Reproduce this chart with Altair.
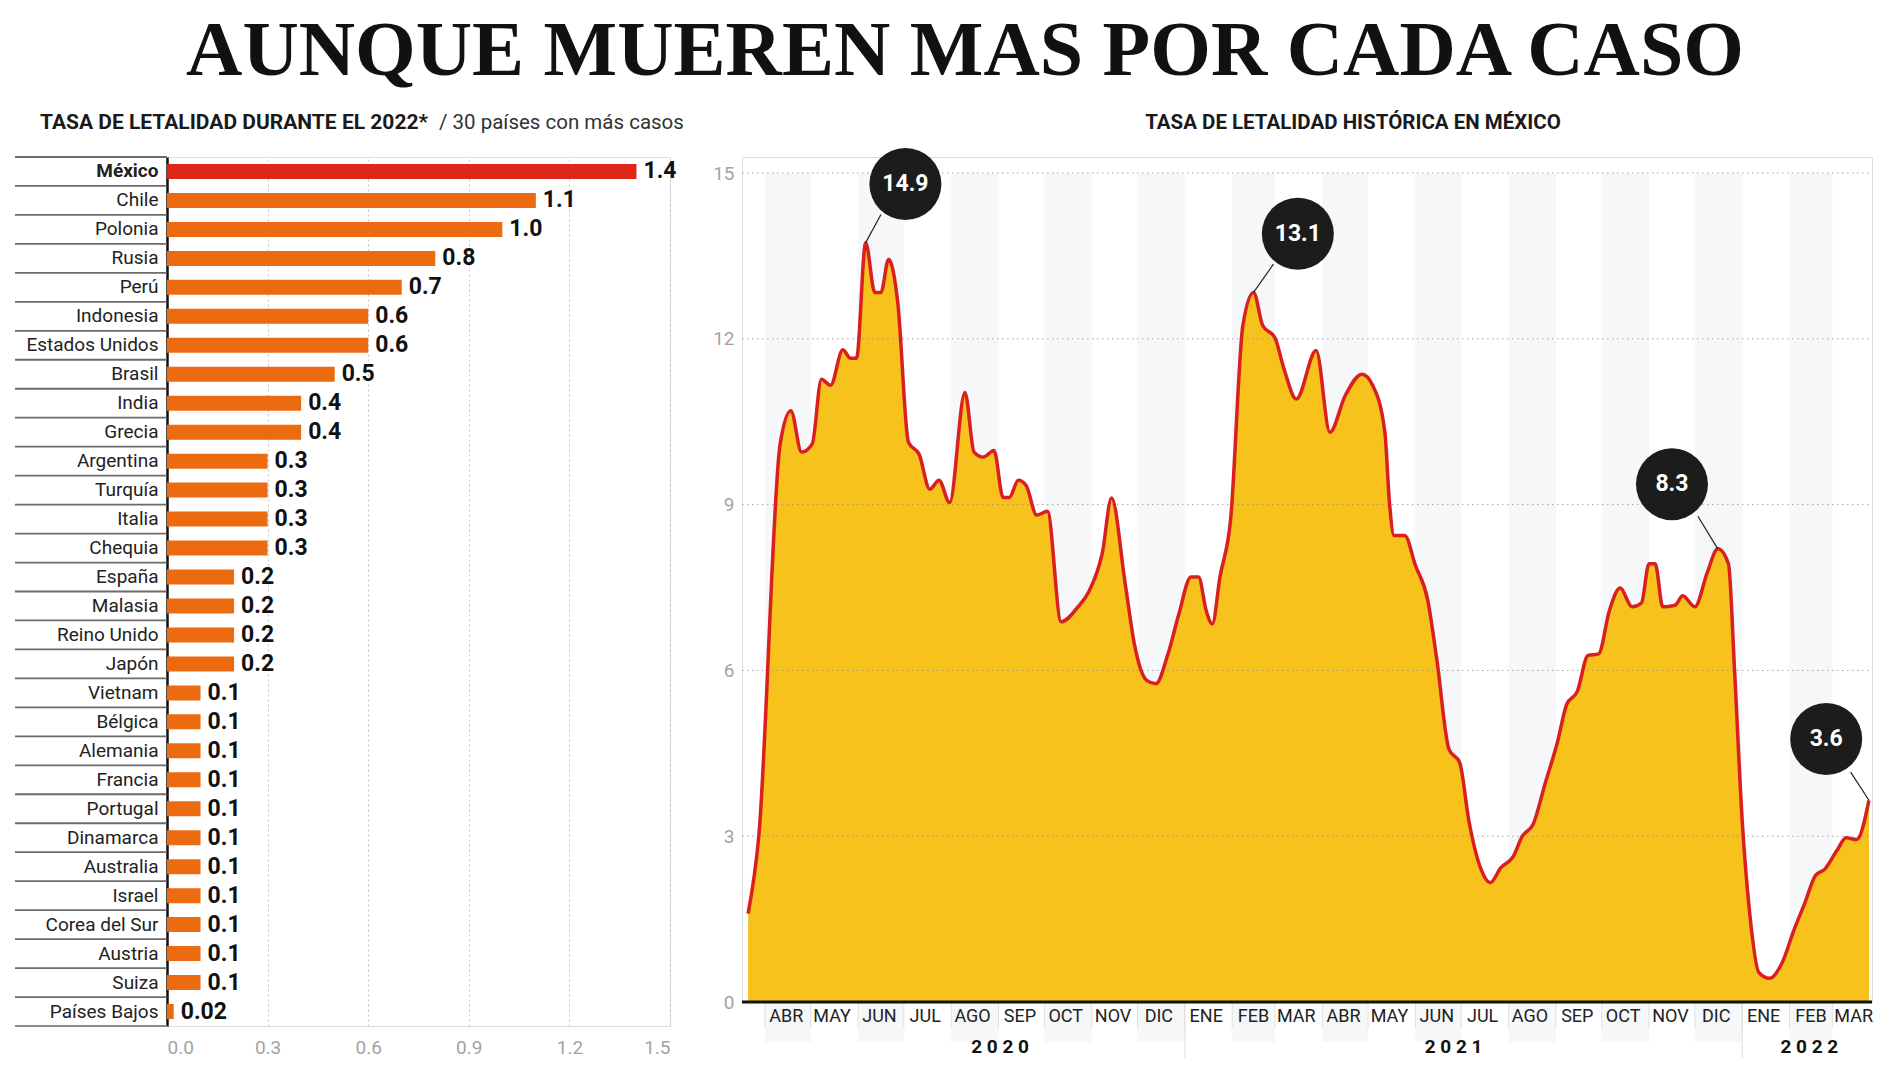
import altair as alt
import pandas as pd

# ---------------- data ----------------
countries = ["México", "Chile", "Polonia", "Rusia", "Perú", "Indonesia", "Estados Unidos",
             "Brasil", "India", "Grecia", "Argentina", "Turquía", "Italia", "Chequia",
             "España", "Malasia", "Reino Unido", "Japón", "Vietnam", "Bélgica", "Alemania",
             "Francia", "Portugal", "Dinamarca", "Australia", "Israel", "Corea del Sur",
             "Austria", "Suiza", "Países Bajos"]
rates = [1.4, 1.1, 1.0, 0.8, 0.7, 0.6, 0.6, 0.5, 0.4, 0.4, 0.3, 0.3, 0.3, 0.3,
         0.2, 0.2, 0.2, 0.2, 0.1, 0.1, 0.1, 0.1, 0.1, 0.1, 0.1, 0.1, 0.1, 0.1, 0.1, 0.02]
bar_ticks = [0, 0.3, 0.6, 0.9, 1.2, 1.5]

line_dates = ["2020-03-21", "2020-03-28", "2020-04-11", "2020-04-18", "2020-04-25", "2020-05-02",
              "2020-05-08", "2020-05-14", "2020-05-22", "2020-05-27", "2020-05-31", "2020-06-06",
              "2020-06-12", "2020-06-16", "2020-06-21", "2020-06-27", "2020-07-04", "2020-07-11",
              "2020-07-18", "2020-07-24", "2020-07-31", "2020-08-10", "2020-08-16", "2020-08-22",
              "2020-08-29", "2020-09-04", "2020-09-08", "2020-09-14", "2020-09-19", "2020-09-26",
              "2020-10-03", "2020-10-12", "2020-10-23", "2020-10-30", "2020-11-08", "2020-11-14",
              "2020-11-23", "2020-11-29", "2020-12-07", "2020-12-13", "2020-12-21", "2020-12-28",
              "2021-01-05", "2021-01-10", "2021-01-15", "2021-01-19", "2021-01-24", "2021-01-31",
              "2021-02-08", "2021-02-15", "2021-02-21", "2021-03-01", "2021-03-07", "2021-03-15",
              "2021-03-28", "2021-04-06", "2021-04-16", "2021-04-27", "2021-05-04", "2021-05-12",
              "2021-05-15", "2021-05-18", "2021-05-25", "2021-06-01", "2021-06-09", "2021-06-15",
              "2021-06-23", "2021-06-30", "2021-07-06", "2021-07-14", "2021-07-20", "2021-07-27",
              "2021-08-04", "2021-08-10", "2021-08-17", "2021-08-25", "2021-09-02", "2021-09-08",
              "2021-09-15", "2021-09-22", "2021-09-29", "2021-10-06", "2021-10-13", "2021-10-21",
              "2021-10-27", "2021-11-01", "2021-11-05", "2021-11-10", "2021-11-18", "2021-11-23",
              "2021-12-01", "2021-12-09", "2021-12-16", "2021-12-23", "2021-12-27", "2022-01-01",
              "2022-01-06", "2022-01-12", "2022-01-19", "2022-01-27", "2022-02-04", "2022-02-11",
              "2022-02-18", "2022-02-24", "2022-03-04", "2022-03-10", "2022-03-17", "2022-03-25"]
line_values = [1.6, 3.0, 10.1, 10.7, 9.95, 10.1, 11.27, 11.16, 11.8, 11.65, 11.65, 13.74,
               12.84, 12.84, 13.44, 12.66, 10.13, 9.91, 9.28, 9.44, 9.04, 11.03, 9.95, 9.86,
               9.98, 9.13, 9.13, 9.44, 9.35, 8.81, 8.88, 6.88, 7.15, 7.42, 8.13, 9.12,
               7.56, 6.47, 5.82, 5.76, 6.30, 7.01, 7.69, 7.69, 7.08, 6.84, 7.69, 8.74,
               12.24, 12.84, 12.24, 12.02, 11.45, 10.91, 11.79, 10.31, 10.97, 11.36, 11.16, 10.31,
               9.04, 8.44, 8.44, 7.9, 7.28, 6.2, 4.57, 4.33, 3.28, 2.40, 2.16, 2.43,
               2.63, 3.0, 3.21, 3.96, 4.7, 5.38, 5.62, 6.27, 6.30, 7.08, 7.49, 7.15,
               7.22, 7.93, 7.93, 7.15, 7.18, 7.35, 7.15, 7.76, 8.2, 7.93, 6.0, 3.28,
               1.58, 0.53, 0.43, 0.7, 1.31, 1.79, 2.29, 2.4, 2.74, 2.97, 2.94, 3.65]
y_ticks = [0, 3, 6, 9, 12, 15]

month_starts = ["2020-04-01", "2020-05-01", "2020-06-01", "2020-07-01", "2020-08-01", "2020-09-01",
                "2020-10-01", "2020-11-01", "2020-12-01", "2021-01-01", "2021-02-01", "2021-03-01",
                "2021-04-01", "2021-05-01", "2021-06-01", "2021-07-01", "2021-08-01", "2021-09-01",
                "2021-10-01", "2021-11-01", "2021-12-01", "2022-01-01", "2022-02-01", "2022-03-01"]
month_labels = ["ABR", "MAY", "JUN", "JUL", "AGO", "SEP", "OCT", "NOV", "DIC", "ENE", "FEB", "MAR",
                "ABR", "MAY", "JUN", "JUL", "AGO", "SEP", "OCT", "NOV", "DIC", "ENE", "FEB", "MAR"]
year_labels = ["2020", "2021", "2022"]
year_label_dates = ["2020-09-02", "2021-06-26", "2022-02-14"]
year_breaks = ["2021-01-01", "2022-01-01"]

ann_labels = ["14.9", "13.1", "8.3", "3.6"]
ann_dates = ["2020-07-02", "2021-03-16", "2021-11-16", "2022-02-25"]
ann_values = [14.8, 13.9, 9.37, 4.76]
conn_start_dates = ["2020-06-16", "2021-02-28", "2021-12-03", "2022-03-13"]
conn_start_values = [14.25, 13.35, 8.79, 4.16]
conn_end_dates = ["2020-06-06", "2021-02-15", "2021-12-16", "2022-03-25"]
conn_end_values = [13.74, 12.84, 8.2, 3.65]

main_title = "AUNQUE MUEREN MAS POR CADA CASO"
left_title_bold = "TASA DE LETALIDAD DURANTE EL 2022*"
left_title_rest = "/ 30 países con más casos"
right_title = "TASA DE LETALIDAD HISTÓRICA EN MÉXICO"

FONT = "Roboto"

# ---------------- left: bar chart ----------------
W_L, H_L = 503, 869
df_left = pd.DataFrame({"country": countries, "rate": rates})
df_left["label"] = [str(r) for r in rates]

y_axis_L = alt.Axis(domainColor="#111111", domainWidth=2.5, ticks=False, labelPadding=9,
                    labelFontSize=19, labelColor="#222222", labelFont=FONT, title=None,
                    labelFontWeight={"expr": "datum.value == 'México' ? 'bold' : 'normal'"})
yL = alt.Y("country:N", sort=countries, scale=alt.Scale(paddingInner=0, paddingOuter=0), axis=y_axis_L)
xL = alt.X("rate:Q", scale=alt.Scale(domain=[0, 1.5], nice=False),
           axis=alt.Axis(values=bar_ticks, format=".1f", grid=True, gridDash=[2, 3],
                         gridColor="#c4c4c4", domain=False, ticks=False, labelColor="#a3a3a3",
                         labelFontSize=19, labelPadding=12, labelFont=FONT, title=None))

bars = alt.Chart(df_left).mark_bar(size=15).encode(
    x=xL, y=yL,
    color=alt.condition(alt.datum.country == "México", alt.value("#E0261B"), alt.value("#EC6A10")),
)
bar_text = alt.Chart(df_left).mark_text(align="left", baseline="middle", dx=7, fontSize=23,
                                        fontWeight="bold", color="#111111", font=FONT).encode(
    x=xL, y=yL, text="label:N")
seps = alt.Chart(df_left).mark_rule(color="#6b6b6b", strokeWidth=1.8).encode(
    y=alt.Y("country:N", sort=countries, bandPosition=0,
            scale=alt.Scale(paddingInner=0, paddingOuter=0), axis=y_axis_L),
    x=alt.value(-152), x2=alt.value(0))
one = pd.DataFrame({"k": [0]})
sep_bottom = alt.Chart(one).mark_rule(color="#8a8a8a", strokeWidth=1.8).encode(
    y=alt.value(H_L), x=alt.value(-152), x2=alt.value(0))
lt1 = alt.Chart(pd.DataFrame({"t": [left_title_bold]})).mark_text(
    align="left", baseline="middle", fontSize=21, fontWeight="bold", color="#1a1a1a", font=FONT
).encode(text="t:N", x=alt.value(-127), y=alt.value(-34))
lt2 = alt.Chart(pd.DataFrame({"t": [left_title_rest]})).mark_text(
    align="left", baseline="middle", fontSize=20.5, color="#333333", font=FONT
).encode(text="t:N", x=alt.value(272), y=alt.value(-34))

left = alt.layer(seps, sep_bottom, bars, bar_text, lt1, lt2).properties(width=W_L, height=H_L)

# ---------------- right: area chart ----------------
W_R, H_R = 1130, 845
x_scale = alt.Scale(domain=[alt.DateTime(year=2020, month=3, date=17),
                            alt.DateTime(year=2022, month=3, date=27)])
y_scale = alt.Scale(domain=[0, 15.29], nice=False)

df_line = pd.DataFrame({"date": pd.to_datetime(line_dates), "value": line_values})

ms = pd.to_datetime(month_starts)
df_months = pd.DataFrame({"start": ms, "label": month_labels})
df_months["mid"] = df_months["start"] + pd.Timedelta(days=14)
nxt = list(ms[1:]) + [ms[-1] + pd.offsets.MonthBegin(1)]
df_months["end"] = nxt
df_months["top"] = y_ticks[-1]
df_bands = df_months.iloc[::2].reset_index(drop=True)

y_axis_R = alt.Axis(values=y_ticks, grid=False, domain=False, ticks=False, labelColor="#a3a3a3",
                    labelFontSize=19, labelPadding=8, labelFont=FONT, title=None)

bands = alt.Chart(df_bands).mark_rect(color="#F5F7F9").encode(
    x=alt.X("start:T", scale=x_scale, axis=None), x2="end:T",
    y=alt.Y("top:Q", scale=y_scale, axis=y_axis_R), y2=alt.value(H_R + 40))

area = alt.Chart(df_line).mark_area(color="#F7C21C", interpolate="monotone").encode(
    x=alt.X("date:T", scale=x_scale, axis=None),
    y=alt.Y("value:Q", scale=y_scale, axis=y_axis_R))

grid = alt.Chart(pd.DataFrame({"tick": y_ticks})).mark_rule(
    color="#8f8f8f", strokeDash=[1.5, 3.5], strokeWidth=1, opacity=0.8).encode(
    y=alt.Y("tick:Q", scale=y_scale, axis=y_axis_R), x=alt.value(0), x2=alt.value(W_R))

line = alt.Chart(df_line).mark_line(color="#D91F1F", strokeWidth=3.5, interpolate="monotone").encode(
    x=alt.X("date:T", scale=x_scale, axis=None),
    y=alt.Y("value:Q", scale=y_scale, axis=y_axis_R))

month_seps = alt.Chart(df_months).mark_rule(color="#e0e0e0", strokeWidth=1).encode(
    x=alt.X("start:T", scale=x_scale, axis=None), y=alt.value(H_R), y2=alt.value(H_R + 26))
month_text = alt.Chart(df_months).mark_text(fontSize=18, color="#222222", baseline="middle",
                                            font=FONT).encode(
    x=alt.X("mid:T", scale=x_scale, axis=None), y=alt.value(H_R + 15), text="label:N")

df_years = pd.DataFrame({"date": pd.to_datetime(year_label_dates),
                         "label": [" ".join(y) for y in year_labels]})
year_text = alt.Chart(df_years).mark_text(fontSize=19, fontWeight="bold", color="#111111",
                                          baseline="middle", font=FONT).encode(
    x=alt.X("date:T", scale=x_scale, axis=None), y=alt.value(H_R + 45), text="label:N")
year_seps = alt.Chart(pd.DataFrame({"date": pd.to_datetime(year_breaks)})).mark_rule(
    color="#dddddd", strokeWidth=1).encode(
    x=alt.X("date:T", scale=x_scale, axis=None), y=alt.value(H_R), y2=alt.value(H_R + 56))

axis_line = alt.Chart(one).mark_rule(color="#111111", strokeWidth=3).encode(
    y=alt.value(H_R), x=alt.value(0), x2=alt.value(W_R))

df_conn = pd.DataFrame({"d1": pd.to_datetime(conn_start_dates), "v1": conn_start_values,
                        "d2": pd.to_datetime(conn_end_dates), "v2": conn_end_values})
conn = alt.Chart(df_conn).mark_rule(color="#222222", strokeWidth=1.2).encode(
    x=alt.X("d1:T", scale=x_scale, axis=None), x2="d2:T",
    y=alt.Y("v1:Q", scale=y_scale, axis=y_axis_R), y2="v2:Q")

df_ann = pd.DataFrame({"date": pd.to_datetime(ann_dates), "value": ann_values, "label": ann_labels})
circles = alt.Chart(df_ann).mark_point(shape="circle", filled=True, size=5184, color="#1c1c1c",
                                       opacity=1).encode(
    x=alt.X("date:T", scale=x_scale, axis=None),
    y=alt.Y("value:Q", scale=y_scale, axis=y_axis_R))
circ_text = alt.Chart(df_ann).mark_text(fontSize=23, fontWeight="bold", color="white",
                                        baseline="middle", font=FONT).encode(
    x=alt.X("date:T", scale=x_scale, axis=None),
    y=alt.Y("value:Q", scale=y_scale, axis=y_axis_R), text="label:N")

rt = alt.Chart(pd.DataFrame({"t": [right_title]})).mark_text(
    align="center", baseline="middle", fontSize=20.5, fontWeight="bold", color="#1a1a1a", font=FONT
).encode(text="t:N", x=alt.value(611), y=alt.value(-34))

right = alt.layer(bands, area, grid, line, month_seps, month_text, year_seps, year_text,
                  axis_line, conn, circles, circ_text, rt).properties(width=W_R, height=H_R)

chart = alt.hconcat(
    left, right, spacing=72, bounds="flush",
    title=alt.TitleParams(text=main_title, font="Liberation Serif", fontSize=78,
                          fontWeight="bold", color="#111111", anchor="middle", offset=21, dx=20),
).properties(
    padding={"left": 5, "top": 4, "right": 5, "bottom": 5},
    background="white",
).configure_view(stroke=None).configure(font=FONT)

chart.save("out.html", embed_options={"renderer": "svg", "actions": False})
